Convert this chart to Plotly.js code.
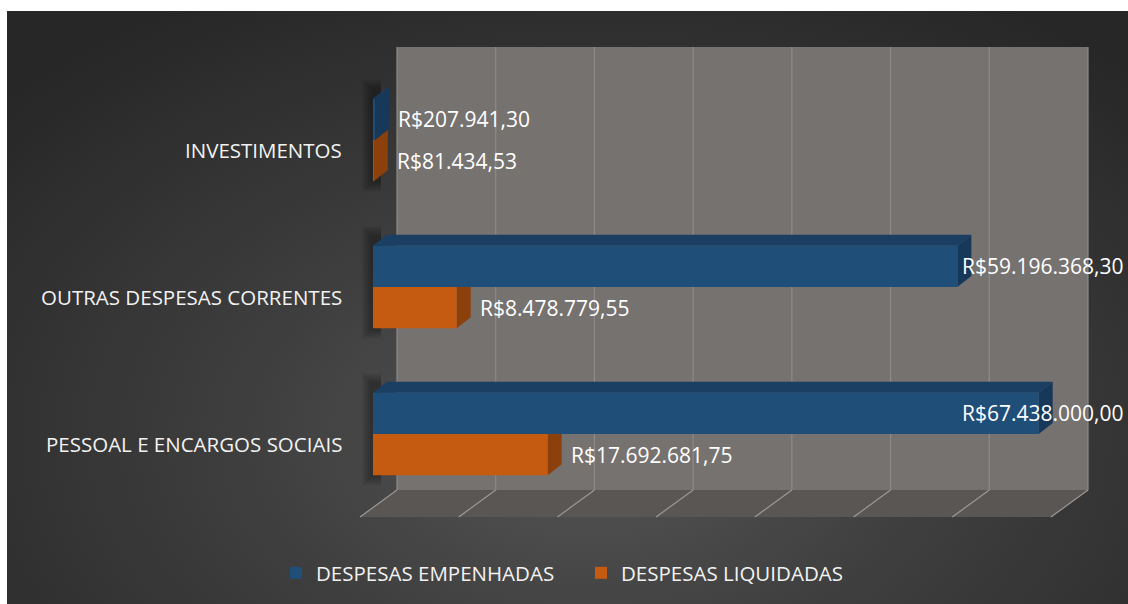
<!DOCTYPE html>
<html>
<head>
<meta charset="utf-8">
<script src="https://cdn.plot.ly/plotly-3.0.1.min.js"></script>
<style>
  html, body { margin: 0; padding: 0; background: #ffffff; }
  #bg { position: absolute; left: 7px; top: 11px; width: 1121px; height: 593px;
        background: radial-gradient(ellipse 70% 85% at 52% 72%, #555555 0%, #3e3e3e 45%, #272727 100%); }
  #chart { position: absolute; left: 0; top: 0; width: 1128px; height: 604px; }
</style>
</head>
<body>
<div id="bg"></div>
<div id="chart"></div>
<script>
// ---------- data ----------
var categories = ['PESSOAL E ENCARGOS SOCIAIS', 'OUTRAS DESPESAS CORRENTES', 'INVESTIMENTOS'];
var empenhadas = [67438000.00, 59196368.30, 207941.30];
var liquidadas = [17692681.75, 8478779.55, 81434.53];
var seriesNames = ['DESPESAS EMPENHADAS', 'DESPESAS LIQUIDADAS'];
var axisTicks = [0, 10e6, 20e6, 30e6, 40e6, 50e6, 60e6, 70e6];

// ---------- layout geometry ----------
var W = 1128, H = 604;
var ML = 355, MR = 33, MT = 40, MB = 84;
var plotW = W - ML - MR, plotH = H - MT - MB;
var X0PX = 373, XMAXV = 70e6, XMAXPX = 1064;        // front plane: 0 at 373px, 70M at 1064px
var sx = (XMAXPX - X0PX) / XMAXV;                    // px per unit
var XMIN = -(X0PX - ML) / sx;
var XMAX = XMAXV + (ML + plotW - XMAXPX) / sx;
var sy = 147, Y0PX = 434;                            // px per category, centre of first category
var YMIN = -(MT + plotH - Y0PX) / sy;
var YMAX = (Y0PX - MT) / sy;
function dx(px) { return px / sx; }                  // pixel offset -> data x offset
function dy(px) { return px / sy; }                  // pixel offset (upwards) -> data y offset
function ypx(py) { return (Y0PX - py) / sy; }        // absolute pixel -> data y

var BW = 0.28;            // bar thickness (category units)
var DEPX = 14, DEPY = 11; // bar depth projection (px)

var C_BLUE = '#1f4e79', C_BLUE_TOP = '#1a3f63', C_BLUE_SIDE = '#173858';
var C_OR = '#c55a11', C_OR_TOP = '#a34a0e', C_OR_SIDE = '#8c400c';

var pos = categories.map(function (c, i) { return i; });

function brl(v) {
  var p = v.toFixed(2).split('.');
  return 'R$' + p[0].replace(/\B(?=(\d{3})+(?!\d))/g, '.') + ',' + p[1];
}

// ---------- shapes: walls, grid, 3D faces ----------
var shapes = [];
var WALLX = 24, WALL_TOP = 47, WALL_BOT = 490, FLOOR_FRONT = 517, FLOORX = -13;
// back wall
shapes.push({type: 'rect', xref: 'x', yref: 'y', layer: 'below',
  x0: dx(WALLX), x1: XMAXV + dx(WALLX), y0: ypx(WALL_BOT), y1: ypx(WALL_TOP),
  fillcolor: '#767270', line: {width: 0}});
// floor
shapes.push({type: 'path', xref: 'x', yref: 'y', layer: 'below',
  path: 'M' + dx(WALLX) + ',' + ypx(WALL_BOT) + ' L' + (XMAXV + dx(WALLX)) + ',' + ypx(WALL_BOT) +
        ' L' + (XMAXV + dx(FLOORX)) + ',' + ypx(FLOOR_FRONT) + ' L' + dx(FLOORX) + ',' + ypx(FLOOR_FRONT) + ' Z',
  fillcolor: '#5a5654', line: {width: 0}});
// grid lines on wall + floor
axisTicks.forEach(function (t) {
  shapes.push({type: 'line', xref: 'x', yref: 'y', layer: 'below',
    x0: t + dx(WALLX), x1: t + dx(WALLX), y0: ypx(WALL_BOT), y1: ypx(WALL_TOP),
    line: {color: '#8e8a89', width: 1.2}});
  shapes.push({type: 'line', xref: 'x', yref: 'y', layer: 'below',
    x0: t + dx(WALLX), x1: t + dx(FLOORX), y0: ypx(WALL_BOT), y1: ypx(FLOOR_FRONT),
    line: {color: '#9c9896', width: 1.2}});
});
// soft shadow left of bars (layered translucent rects to fake a blur)
pos.forEach(function (p) {
  for (var k = 8; k >= 0; k -= 2) {
    shapes.push({type: 'rect', xref: 'x', yref: 'y', layer: 'below',
      x0: dx(-k - 3), x1: dx(8), y0: p - BW - dy(k + 2), y1: p + BW + dy(DEPY + k),
      fillcolor: 'rgba(0,0,0,0.07)', line: {width: 0}});
  }
});
// 3D faces (drawn beneath the front faces)
function faces(v, yb, yt, top, side) {
  var ex = v, ox = dx(DEPX), oy = dy(DEPY);
  shapes.push({type: 'path', xref: 'x', yref: 'y', layer: 'below',
    path: 'M0,' + yt + ' L' + ex + ',' + yt + ' L' + (ex + ox) + ',' + (yt + oy) + ' L' + ox + ',' + (yt + oy) + ' Z',
    fillcolor: top, line: {width: 0}});
  shapes.push({type: 'path', xref: 'x', yref: 'y', layer: 'below',
    path: 'M' + ex + ',' + yb + ' L' + ex + ',' + yt + ' L' + (ex + ox) + ',' + (yt + oy) + ' L' + (ex + ox) + ',' + (yb + oy) + ' Z',
    fillcolor: side, line: {width: 0}});
}
pos.forEach(function (p, i) {
  faces(liquidadas[i], p - BW, p, C_OR_TOP, C_OR_SIDE);
  faces(empenhadas[i], p, p + BW, C_BLUE_TOP, C_BLUE_SIDE);
});

// ---------- annotations ----------
var annotations = [];
var FONT = '"Open Sans", "Noto Sans", sans-serif';
categories.forEach(function (c, i) {
  annotations.push({xref: 'x', yref: 'y', x: 0, y: pos[i], xanchor: 'right', yanchor: 'middle',
    xshift: -29, yshift: -10, text: c, showarrow: false,
    font: {family: FONT, size: 20.5, color: '#f2f2f2'}});
});
function valueLabel(v, y) {
  var t = brl(v);
  var estW = t.length * 11;
  var startPx = X0PX + v * sx + DEPX + 9;
  var a = {yref: 'y', y: y, yanchor: 'middle', text: t, showarrow: false,
    font: {family: FONT, size: 21, color: '#ffffff'}};
  if (startPx + estW > W - 3) { a.xref = 'paper'; a.x = (W - 2 - ML) / plotW; a.xanchor = 'right'; }
  else { a.xref = 'x'; a.x = v; a.xanchor = 'left'; a.xshift = DEPX + 7; }
  annotations.push(a);
}
pos.forEach(function (p, i) {
  valueLabel(empenhadas[i], p + BW / 2);
  valueLabel(liquidadas[i], p - BW / 2);
});

// ---------- traces (front faces) ----------
var traces = [
  {type: 'bar', orientation: 'h', name: seriesNames[1], x: liquidadas, y: pos,
   width: BW, offset: -BW, marker: {color: C_OR, line: {width: 0}}, legendrank: 2, hoverinfo: 'x'},
  {type: 'bar', orientation: 'h', name: seriesNames[0], x: empenhadas, y: pos,
   width: BW, offset: 0, marker: {color: C_BLUE, line: {width: 0}}, legendrank: 1, hoverinfo: 'x'}
];

var layout = {
  width: W, height: H,
  margin: {l: ML, r: MR, t: MT, b: MB, pad: 0},
  paper_bgcolor: 'rgba(0,0,0,0)', plot_bgcolor: 'rgba(0,0,0,0)',
  barmode: 'overlay',
  xaxis: {range: [XMIN, XMAX], visible: false, fixedrange: true},
  yaxis: {range: [YMIN, YMAX], visible: false, fixedrange: true},
  showlegend: true,
  legend: {orientation: 'h', xref: 'container', yref: 'container',
    x: 276 / W, xanchor: 'left', y: 1 - 573 / H, yanchor: 'middle',
    font: {family: FONT, size: 20.5, color: '#f2f2f2'},
    bgcolor: 'rgba(0,0,0,0)', itemwidth: 30, entrywidthmode: 'pixels', entrywidth: 260},
  shapes: shapes,
  annotations: annotations
};

Plotly.newPlot('chart', traces, layout, {displayModeBar: false, staticPlot: true});
</script>
</body>
</html>
